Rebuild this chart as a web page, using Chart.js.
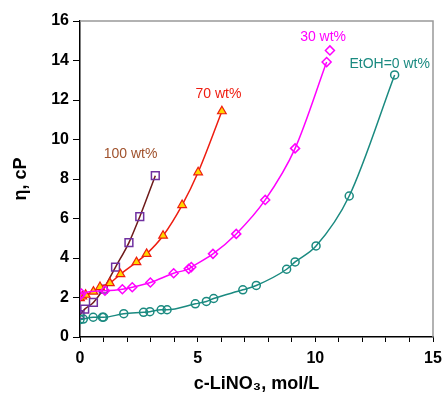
<!DOCTYPE html>
<html lang="en">
  <head>
    <meta charset="UTF-8" />
    <script src="https://cdn.jsdelivr.net/npm/chart.js@4.4.1/dist/chart.umd.min.js"></script>
    <title>Viscosity vs LiNO3</title>
    <style>
      body { margin: 0; background: #fff; }
      #wrap { width: 444px; height: 399px; }
    </style>
  </head>
  <body>
    <div id="wrap"><canvas id="myChart" width="444" height="399"></canvas></div>

    <script>
      // EtOH = 0 wt%
      var x0 = [0, 0.14, 0.56, 0.95, 1.0, 1.86, 2.7, 2.97, 3.45, 3.7, 4.9, 5.37, 5.68, 6.92, 7.49, 8.78, 9.14, 10.03, 11.44, 13.37];
      var y0 = [0.88, 0.91, 1.0, 1.0, 1.0, 1.18, 1.25, 1.28, 1.38, 1.38, 1.68, 1.8, 1.95, 2.39, 2.61, 3.43, 3.8, 4.61, 7.14, 13.27];
      // 30 wt%
      var x30 = [0, 0.06, 1.06, 1.8, 2.22, 2.99, 3.98, 4.62, 4.73, 5.65, 6.64, 7.87, 9.14, 10.48];
      var y30 = [2.1, 2.2, 2.34, 2.42, 2.52, 2.76, 3.23, 3.45, 3.54, 4.21, 5.22, 6.94, 9.55, 13.92];
      var x30extra = [10.62];
      var y30extra = [14.51];
      // 70 wt%
      var x70 = [0, 0.1, 0.24, 0.57, 0.85, 1.27, 1.72, 2.4, 2.83, 3.53, 4.34, 5.02, 6.03];
      var y70 = [1.97, 2.05, 2.14, 2.3, 2.53, 2.73, 3.18, 3.79, 4.21, 5.13, 6.68, 8.34, 11.43];
      // 100 wt%
      var x100 = [0, 0.2, 0.57, 0.99, 1.51, 2.08, 2.54, 3.2];
      var y100 = [1.13, 1.41, 1.75, 2.42, 3.54, 4.78, 6.09, 8.17];

      var seriesLabels = ['EtOH=0 wt%', '30 wt%', '70 wt%', '100 wt%'];
      var labelAt = [[13.16, 13.8], [10.33, 15.2], [5.88, 12.3], [2.15, 9.25]];
      var labelColors = ['#1a8a80', '#ff00ff', '#ee1c10', '#a0522d'];

      function pts(xs, ys) {
        return xs.map(function (x, i) { return { x: x, y: ys[i] }; });
      }

      var textPlugin = {
        id: 'extras',
        beforeDatasetsDraw: function (chart) {
          var c = chart.ctx, a = chart.chartArea;
          c.save();
          c.strokeStyle = '#999';
          c.lineWidth = 1.5;
          c.beginPath();
          c.moveTo(a.left, a.top);
          c.lineTo(a.right, a.top);
          c.lineTo(a.right, a.bottom);
          c.stroke();
          c.restore();
        },
        afterDraw: function (chart) {
          var c = chart.ctx;
          var xs = chart.scales.x, ys = chart.scales.y;
          c.save();
          c.font = '14px "Liberation Sans", Arial, sans-serif';
          c.textAlign = 'center';
          c.textBaseline = 'middle';
          seriesLabels.forEach(function (t, i) {
            c.fillStyle = labelColors[i];
            c.fillText(t, xs.getPixelForValue(labelAt[i][0]), ys.getPixelForValue(labelAt[i][1]));
          });
          c.restore();
        }
      };

      var tickFont = { family: '"Liberation Sans", Arial, sans-serif', size: 16, weight: 'bold' };

      var ctx = document.getElementById('myChart').getContext('2d');
      var myChart = new Chart(ctx, {
        type: 'scatter',
        data: {
          datasets: [
            {
              label: seriesLabels[0],
              data: pts(x0, y0),
              showLine: true,
              borderColor: '#1a8a80',
              backgroundColor: 'rgba(0,0,0,0)',
              pointStyle: 'circle',
              pointRadius: 4,
              pointBorderWidth: 1.5,
              borderWidth: 1.5,
              cubicInterpolationMode: 'monotone'
            },
            {
              label: seriesLabels[1],
              data: pts(x30, y30),
              showLine: true,
              borderColor: '#ff00ff',
              backgroundColor: 'rgba(0,0,0,0)',
              pointStyle: 'rectRot',
              pointRadius: 4.5,
              pointBorderWidth: 1.5,
              borderWidth: 1.5,
              cubicInterpolationMode: 'monotone'
            },
            {
              label: '30 wt% end',
              data: pts(x30extra, y30extra),
              showLine: false,
              borderColor: '#ff00ff',
              backgroundColor: 'rgba(0,0,0,0)',
              pointStyle: 'rectRot',
              pointRadius: 4.5,
              pointBorderWidth: 1.5
            },
            {
              label: seriesLabels[2],
              data: pts(x70, y70),
              showLine: true,
              borderColor: '#ee1c10',
              pointBorderColor: '#ee1c10',
              pointBackgroundColor: '#ffd700',
              pointStyle: 'triangle',
              pointRadius: 5,
              pointBorderWidth: 1.2,
              borderWidth: 1.5,
              cubicInterpolationMode: 'monotone'
            },
            {
              label: seriesLabels[3],
              data: pts(x100, y100),
              showLine: true,
              borderColor: '#6e1a1a',
              pointBorderColor: '#7030a0',
              pointBackgroundColor: 'rgba(0,0,0,0)',
              pointStyle: 'rect',
              pointRadius: 5.5,
              pointBorderWidth: 1.5,
              borderWidth: 1.5,
              cubicInterpolationMode: 'monotone'
            }
          ]
        },
        options: {
          responsive: false,
          animation: false,
          layout: { padding: { top: 21, right: 11, left: 0, bottom: 0 } },
          plugins: { legend: { display: false }, tooltip: { enabled: false } },
          scales: {
            x: {
              type: 'linear',
              min: 0,
              max: 15,
              border: { color: '#000', width: 1.5 },
              grid: { drawOnChartArea: false, drawTicks: true, tickLength: 5, color: '#000' },
              ticks: {
                stepSize: 1,
                color: '#000',
                font: tickFont,
                padding: 7,
                autoSkip: false,
                maxRotation: 0,
                callback: function (v) { return v % 5 === 0 ? v : ''; }
              },
              title: {
                display: true,
                text: 'c-LiNO\u2083, mol/L',
                color: '#000',
                font: { family: '"Liberation Sans", Arial, sans-serif', size: 18, weight: 'bold' },
                padding: { top: 8 }
              },
              afterFit: function (s) {
                s.height = 62;
                s.paddingLeft = 0;
                s.paddingRight = 0;
              }
            },
            y: {
              min: 0,
              max: 16,
              border: { color: '#000', width: 1.5 },
              grid: { drawOnChartArea: false, drawTicks: true, tickLength: 7, color: '#000' },
              ticks: { stepSize: 2, color: '#000', font: tickFont, padding: 4 },
              title: {
                display: true,
                text: '\u03b7, cP',
                color: '#000',
                font: { family: '"Liberation Sans", Arial, sans-serif', size: 18, weight: 'bold' },
                padding: { top: 10, bottom: 0 }
              },
              afterFit: function (s) {
                s.width = 80;
                s.paddingTop = 0;
                s.paddingBottom = 0;
              }
            }
          }
        },
        plugins: [textPlugin]
      });
    </script>
  </body>
</html>
